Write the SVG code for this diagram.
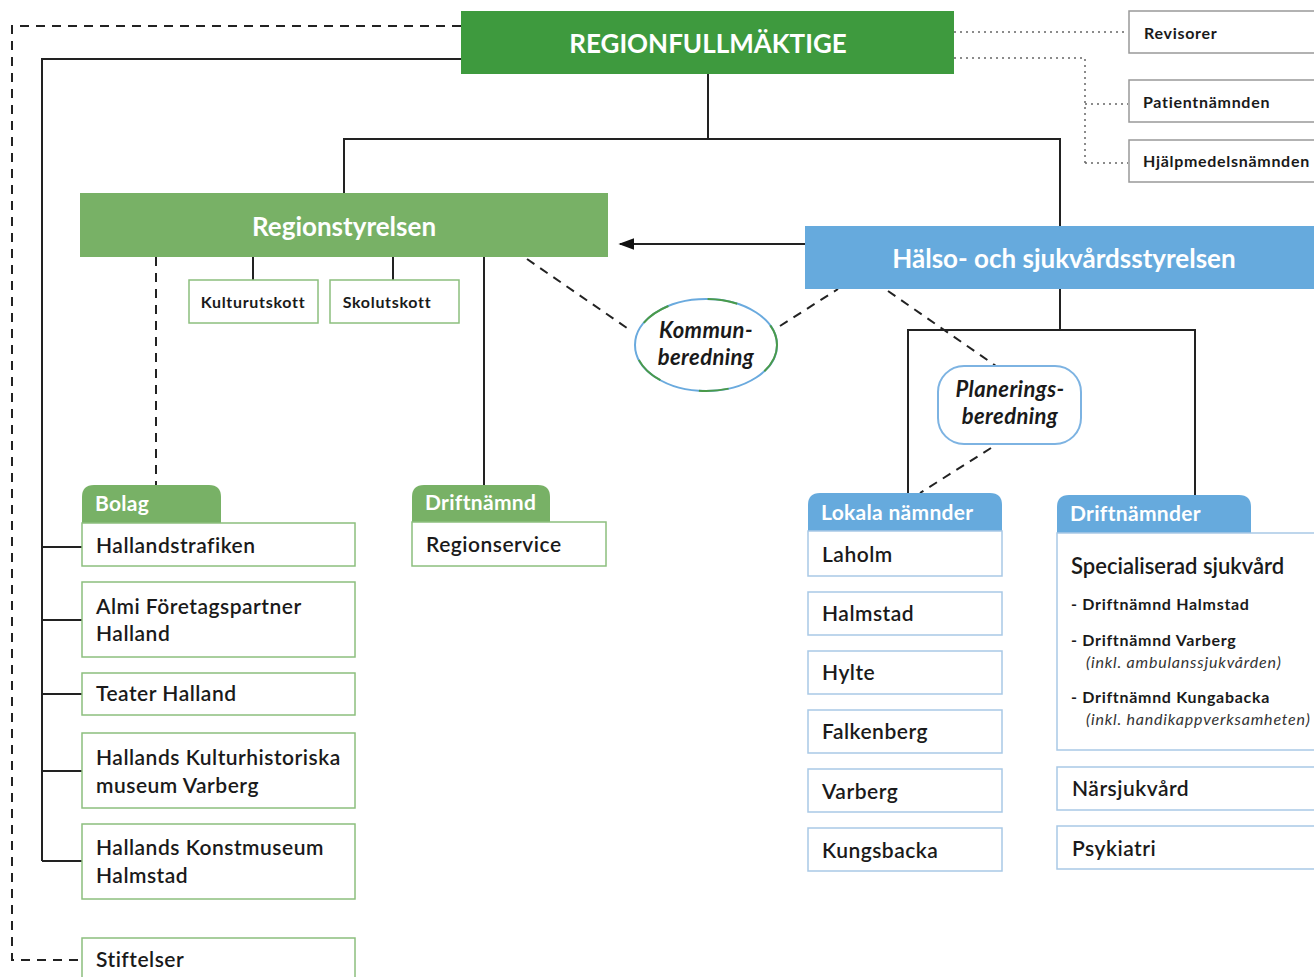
<svg xmlns="http://www.w3.org/2000/svg" width="1314" height="977" viewBox="0 0 1314 977">
<style>
text{font-family:Lato,"Open Sans","Liberation Sans",sans-serif;fill:#1a1a1a}
.hdr{fill:#fff;font-weight:700;font-size:26px;text-anchor:middle}
.tab{fill:#fff;font-weight:700;font-size:21px;letter-spacing:0.3px}
.bx{font-weight:600;font-size:21px;letter-spacing:0.5px}
.sm{font-weight:700;font-size:16px;letter-spacing:0.7px}
.it{font-style:italic;font-size:16px;fill:#333;letter-spacing:0.8px}
.itb{font-style:italic;font-weight:700;font-size:22px;letter-spacing:0.4px;text-anchor:middle}
.gbox{fill:#fff;stroke:#8cbf7e;stroke-width:1.5}
.bbox{fill:#fff;stroke:#a9c9e6;stroke-width:1.5}
.kbox{fill:#fff;stroke:#999;stroke-width:1.5}
.ln{fill:none;stroke:#222;stroke-width:2}
.dash{fill:none;stroke:#222;stroke-width:2;stroke-dasharray:9 7}
.dot{fill:none;stroke:#666;stroke-width:1.5;stroke-dasharray:2 4}
</style>
<defs>
<marker id="arr" viewBox="0 0 10 10" refX="9" refY="5" markerWidth="16" markerHeight="12" orient="auto" markerUnits="userSpaceOnUse" preserveAspectRatio="none">
<path d="M0,0 L10,5 L0,10 Z" fill="#111"/>
</marker>
</defs>
<rect width="1314" height="977" fill="#fff"/>

<g id="connectors">
<path class="dash" d="M461,26 H12 V960 H82"/>
<path class="ln" d="M461,59 H42 V861"/>
<path class="ln" d="M42,547 H82 M42,620 H82 M42,694 H82 M42,771 H82 M42,861 H82"/>
<path class="dot" d="M954,32 H1128"/>
<path class="dot" d="M954,58 H1085 V163 M1085,104 H1128 M1085,163 H1128"/>
<path class="ln" d="M708,74 V139 M344,193 V139 H1060 V226"/>
<path class="ln" d="M805,244 H620" marker-end="url(#arr)"/>
<path class="ln" d="M253,257 V280 M393,257 V280"/>
<path class="dash" d="M156,257 V485"/>
<path class="ln" d="M484,257 V485"/>
<path class="dash" d="M527,259 L627,328 M780,326 L838,289"/>
<path class="dash" d="M888,291 L996,366 M991,448 L920,493"/>
<path class="ln" d="M1060,289 V330 M908,493 V330 H1195 V495"/>
</g>

<g id="regionfullmaktige">
<rect x="461" y="11" width="493" height="63" fill="#3e9a3e"/>
<text class="hdr" x="708" y="53">REGIONFULLMÄKTIGE</text>
</g>
<g id="revisorer"><rect class="kbox" x="1129" y="11" width="200" height="42"/><text class="sm" x="1144" y="39">Revisorer</text></g>
<g id="patientnamnden"><rect class="kbox" x="1129" y="80" width="200" height="42"/><text class="sm" x="1143" y="108">Patientnämnden</text></g>
<g id="hjalpmedelsnamnden"><rect class="kbox" x="1129" y="140" width="200" height="42"/><text class="sm" x="1143" y="167">Hjälpmedelsnämnden</text></g>

<g id="regionstyrelsen">
<rect x="80" y="193" width="528" height="64" fill="#78b166"/>
<text class="hdr" x="344" y="236">Regionstyrelsen</text>
</g>
<g id="halso">
<rect x="805" y="226" width="520" height="63" fill="#66aadd"/>
<text class="hdr" x="1064" y="268">Hälso- och sjukvårdsstyrelsen</text>
</g>

<g id="kulturutskott"><rect class="gbox" x="189" y="280" width="129" height="43"/><text class="sm" x="253" y="308" text-anchor="middle">Kulturutskott</text></g>
<g id="skolutskott"><rect class="gbox" x="330" y="280" width="129" height="43"/><text class="sm" x="387" y="308" text-anchor="middle">Skolutskott</text></g>

<g id="kommunberedning">
<ellipse cx="706" cy="345" rx="71" ry="46" fill="#fff" stroke="#6aaade" stroke-width="2"/>
<ellipse cx="706" cy="345" rx="71" ry="46" fill="none" stroke="#4a9a4a" stroke-width="2" stroke-dasharray="30 40"/>
<text class="itb" x="706" y="338">Kommun-</text>
<text class="itb" x="706" y="365">beredning</text>
</g>
<g id="planeringsberedning">
<rect x="938" y="366" width="143" height="78" rx="26" fill="#fff" stroke="#7db3e2" stroke-width="2"/>
<text class="itb" x="1010" y="397">Planerings-</text>
<text class="itb" x="1010" y="424">beredning</text>
</g>

<g id="bolag">
<path d="M82,523 V497 Q82,485 94,485 H209 Q221,485 221,497 V523 Z" fill="#78b166"/>
<text class="tab" x="95" y="511">Bolag</text>
</g>
<g id="hallandstrafiken"><rect class="gbox" x="82" y="523" width="273" height="43"/><text class="bx" x="96" y="553">Hallandstrafiken</text></g>
<g id="almi"><rect class="gbox" x="82" y="582" width="273" height="75"/><text class="bx" x="96" y="614">Almi Företagspartner</text><text class="bx" x="96" y="641">Halland</text></g>
<g id="teater"><rect class="gbox" x="82" y="673" width="273" height="42"/><text class="bx" x="96" y="701">Teater Halland</text></g>
<g id="kulturhistoriska"><rect class="gbox" x="82" y="733" width="273" height="75"/><text class="bx" x="96" y="765">Hallands Kulturhistoriska</text><text class="bx" x="96" y="793">museum Varberg</text></g>
<g id="konstmuseum"><rect class="gbox" x="82" y="824" width="273" height="75"/><text class="bx" x="96" y="855">Hallands Konstmuseum</text><text class="bx" x="96" y="883">Halmstad</text></g>
<g id="stiftelser"><rect class="gbox" x="82" y="938" width="273" height="60"/><text class="bx" x="96" y="967">Stiftelser</text></g>

<g id="driftnamnd">
<path d="M412,522 V497 Q412,485 424,485 H538 Q550,485 550,497 V522 Z" fill="#78b166"/>
<text class="tab" x="425" y="510">Driftnämnd</text>
</g>
<g id="regionservice"><rect class="gbox" x="412" y="522" width="194" height="44"/><text class="bx" x="426" y="552">Regionservice</text></g>

<g id="lokala">
<path d="M808,531 V505 Q808,493 820,493 H990 Q1002,493 1002,505 V531 Z" fill="#66aadd"/>
<text class="tab" x="821" y="520">Lokala nämnder</text>
</g>
<g id="laholm"><rect class="bbox" x="808" y="531" width="194" height="45"/><text class="bx" x="822" y="562">Laholm</text></g>
<g id="halmstad"><rect class="bbox" x="808" y="592" width="194" height="43"/><text class="bx" x="822" y="621">Halmstad</text></g>
<g id="hylte"><rect class="bbox" x="808" y="651" width="194" height="43"/><text class="bx" x="822" y="680">Hylte</text></g>
<g id="falkenberg"><rect class="bbox" x="808" y="710" width="194" height="43"/><text class="bx" x="822" y="739">Falkenberg</text></g>
<g id="varberg"><rect class="bbox" x="808" y="769" width="194" height="43"/><text class="bx" x="822" y="799">Varberg</text></g>
<g id="kungsbacka"><rect class="bbox" x="808" y="828" width="194" height="43"/><text class="bx" x="822" y="858">Kungsbacka</text></g>

<g id="driftnamnder">
<path d="M1057,533 V507 Q1057,495 1069,495 H1239 Q1251,495 1251,507 V533 Z" fill="#66aadd"/>
<text class="tab" x="1070" y="521">Driftnämnder</text>
</g>
<g id="specialiserad">
<rect class="bbox" x="1057" y="533" width="270" height="217"/>
<text class="bx" x="1071" y="574" style="font-size:22px;letter-spacing:0px">Specialiserad sjukvård</text>
<text class="sm" x="1071" y="610">- Driftnämnd Halmstad</text>
<text class="sm" x="1071" y="646">- Driftnämnd Varberg</text>
<text class="it" x="1086" y="668">(inkl. ambulanssjukvården)</text>
<text class="sm" x="1071" y="703">- Driftnämnd Kungabacka</text>
<text class="it" x="1086" y="725">(inkl. handikappverksamheten)</text>
</g>
<g id="narsjukvard"><rect class="bbox" x="1057" y="767" width="270" height="43"/><text class="bx" x="1072" y="796">Närsjukvård</text></g>
<g id="psykiatri"><rect class="bbox" x="1057" y="826" width="270" height="43"/><text class="bx" x="1072" y="856">Psykiatri</text></g>
</svg>
